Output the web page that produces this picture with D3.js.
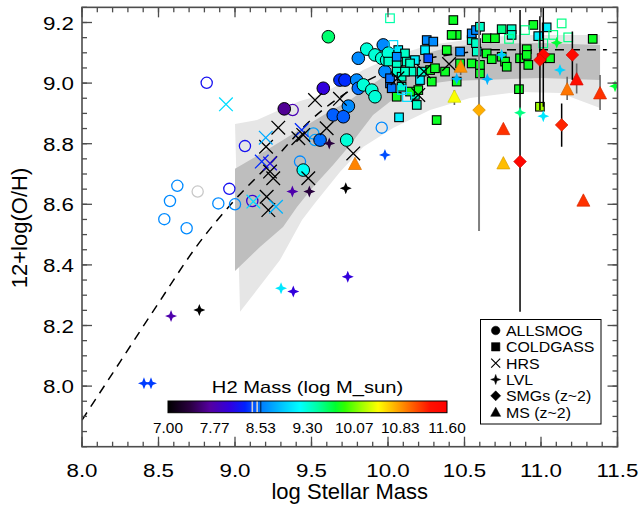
<!DOCTYPE html>
<html>
<head>
<meta charset="utf-8">
<script src="https://cdn.jsdelivr.net/npm/d3@7"></script>
<style>
body { margin: 0; background: #fff; }
text { font-family: "Liberation Sans", Arial, Helvetica, sans-serif; fill: #000; }
</style>
</head>
<body>
<svg id="chart" width="641" height="507"></svg>
<script>
// ---- data: [log M*, 12+log(O/H), log M_H2] ----
var allsmog = [
  [9.322,8.915,7.65],[9.577,8.983,8.0],[9.610,9.153,9.6],[9.686,9.010,8.3],[9.719,9.010,8.3],
  [9.741,8.924,8.6],[9.642,8.895,8.45],[9.708,8.889,8.45],[9.556,8.812,8.5],[9.730,8.812,9.3],
  [9.446,8.713,9.2],[9.861,9.112,9.3],[9.969,9.126,8.6],[9.806,9.082,8.6],[9.915,9.093,9.3],
  [9.959,9.082,9.3],[9.991,9.076,9.3],[10.002,9.099,9.3],[9.980,9.038,8.6],[9.795,9.010,8.6],
  [9.806,8.983,8.5],[9.839,8.994,9.3],[9.894,8.977,9.3],[9.915,8.955,9.3]
];
var allsmogLimits = [
  [8.815,9.001,8.15],[9.065,8.792,8.15],[8.538,8.551,8.6],[8.575,8.611,8.6],[8.623,8.661,8.6],
  [8.684,8.521,8.6],[8.756,8.642,null],[8.891,8.603,8.6],[8.963,8.651,8.15],[9.000,8.600,8.6],
  [9.113,8.611,7.95],[9.425,8.741,8.6],[9.377,8.911,7.8],[9.512,8.834,8.7],[9.523,8.812,8.7],
  [9.959,8.853,8.6]
];
var coldgass = [
  [10.067,9.109,9.1],[10.111,9.098,9.35],[10.002,9.071,9.35],[10.057,9.060,9.35],[10.122,9.071,9.35],
  [10.176,9.076,9.1],[10.253,9.142,8.6],[10.296,9.137,8.6],[10.242,9.109,9.1],[10.263,9.082,8.4],
  [10.013,8.999,8.5],[10.024,8.983,8.5],[10.013,9.016,8.5],[10.057,9.038,9.35],[10.089,9.021,9.35],
  [10.057,8.955,9.8],[10.176,8.961,9.35],[10.188,8.928,9.35],[10.209,9.010,9.1],[10.198,8.977,9.8],
  [10.275,9.043,9.8],[10.307,9.049,9.8],[10.286,9.005,9.8],[10.373,9.038,9.8],[10.384,9.109,9.8],
  [10.449,9.159,9.8],[10.416,9.159,9.8],[10.427,9.208,9.8],[10.471,9.065,9.8],[10.547,9.065,9.8],
  [10.601,9.032,9.8],[10.601,9.060,9.8],[10.580,9.104,9.35],[10.547,9.142,9.35],[10.575,9.132,9.35],
  [10.547,9.164,8.6],[10.575,9.175,8.6],[10.601,9.186,9.35],[10.645,9.148,9.8],[10.699,9.148,9.8],
  [10.743,9.178,9.55],[10.808,9.178,9.35],[10.808,9.159,9.35],[10.645,9.098,9.8],[10.678,9.079,9.8],
  [10.743,9.087,9.8],[10.765,9.071,9.8],[10.776,9.054,9.8],[10.863,9.082,9.8],[10.907,9.112,9.8],
  [10.907,9.093,9.8],[10.917,9.060,9.8],[10.950,9.192,9.8],[11.037,9.184,9.1],[10.982,9.155,9.1],
  [11.005,9.082,9.8],[11.059,9.082,9.8],[11.338,9.146,9.8],[10.856,8.980,9.8],[10.993,8.922,10.2],
  [10.318,8.878,9.8],[10.072,8.887,9.1],[10.471,9.104,8.6],[10.449,9.005,9.8],[10.220,9.038,9.35],
  [10.089,8.988,9.35],[10.144,8.972,9.8],[10.144,9.065,9.35],[10.154,9.038,9.35],[10.111,9.038,9.35],
  [10.057,9.087,8.6]
];
var coldgassLimits = [
  [10.013,9.214,9.45],[10.791,9.146,9.55],[10.895,9.175,9.55],[11.080,9.159,9.55],[11.135,9.197,9.55],
  [11.178,9.151,9.55],[11.015,9.131,9.55],[10.035,9.126,9.0],[10.092,8.977,9.0],[10.124,8.954,9.0]
];
var hrs = [
  [8.941,8.930,9.0],[9.283,8.853,7.0],[9.203,8.790,7.0],[9.201,8.820,8.75],[9.175,8.741,8.3],
  [9.229,8.735,8.1],[9.229,8.708,7.0],[9.250,8.686,7.0],[9.207,8.625,7.0],[9.218,8.581,7.0],
  [9.120,8.609,9.0],[9.268,8.592,8.8],[9.436,8.845,8.3],[9.414,8.818,7.0],[9.446,8.829,7.0],
  [9.523,8.944,7.0],[9.479,8.686,7.0],[9.599,8.851,7.0],[9.686,8.948,7.0],[9.773,8.768,7.0],
  [10.062,9.016,7.0],[10.198,8.961,7.0],[10.235,9.038,7.0],[10.399,9.063,7.0]
];
var lvl = [
  [8.405,8.009,8.35],[8.451,8.009,8.35],[8.582,8.231,7.75],[8.767,8.251,7.0],[9.301,8.323,9.05],
  [9.381,8.312,8.0],[9.375,8.642,7.75],[9.486,8.642,7.35],[9.724,8.653,7.0],[9.737,8.361,8.0],
  [9.616,8.801,7.35],[9.980,8.763,8.4],[10.449,9.014,8.8],[10.649,9.013,8.8],[10.743,9.093,8.9],
  [11.103,9.133,9.75],[11.124,9.043,8.95],[11.484,8.990,9.75],[10.863,8.902,9.55],[11.015,8.891,9.05]
];
// [log M*, O/H, H2, err low, err high]
var smgs = [
  [10.595,8.911,10.75,8.512,9.26],[10.863,8.741,11.5,8.245,9.241],[11.015,9.093,11.5,8.922,9.251],
  [10.993,9.076,11.45,8.911,9.221],[11.205,9.093,11.45,9.010,9.170],[11.135,8.862,11.25,8.790,8.933]
];
var msz2 = [
  [10.475,9.054,10.85,9.027,9.076],[10.434,8.955,10.45,8.928,8.977],[9.784,8.733,10.9,null,null],
  [10.754,8.848,11.2,null,null],[10.754,8.735,10.7,null,null],[11.233,9.012,11.4,8.966,9.065],
  [11.171,8.979,10.95,8.944,9.021],[11.386,8.966,11.2,8.911,9.027],[11.277,8.612,11.2,null,null]
];

// shaded relation bands and the dashed MZ curve
var bandLightTop = [[9.0,8.865],[9.144,8.878],[9.275,8.908],[9.425,8.941],[9.536,8.957],[9.686,8.997],[9.837,9.043],[10.052,9.093],[10.275,9.126],[10.601,9.149],[10.863,9.159],[11.386,9.159]];
var bandLightBottom = [[9.033,8.245],[9.294,8.416],[9.438,8.548],[9.523,8.604],[9.686,8.707],[9.837,8.789],[10.033,8.852],[10.275,8.911],[10.536,8.951],[10.863,8.971],[11.124,8.967],[11.386,8.918]];
var bandDarkTop = [[9.0,8.717],[9.098,8.746],[9.314,8.812],[9.471,8.862],[9.601,8.901],[9.752,8.944],[9.902,8.997],[10.052,9.05],[10.209,9.093],[10.405,9.119],[10.601,9.129],[11.0,9.132],[11.386,9.126]];
var bandDarkBottom = [[9.0,8.38],[9.163,8.459],[9.314,8.525],[9.405,8.591],[9.51,8.657],[9.641,8.73],[9.752,8.796],[9.902,8.895],[10.052,8.954],[10.209,8.994],[10.405,9.007],[10.601,9.01],[11.0,9.017],[11.386,9.01]];
var mzCurve = [[8.0,7.888],[8.25,8.081],[8.5,8.274],[8.75,8.462],[9.0,8.615],[9.25,8.745],[9.5,8.88],[9.75,8.975],[10.0,9.04],[10.25,9.08],[10.5,9.10],[10.64,9.11],[11.43,9.11]];

var xMajor = [8.0,8.5,9.0,9.5,10.0,10.5,11.0,11.5];
var yMajor = [8.0,8.2,8.4,8.6,8.8,9.0,9.2];
var cbarTicks = [7.00,7.77,8.53,9.30,10.07,10.83,11.60];
var legendNames = ["ALLSMOG","COLDGASS","HRS","LVL","SMGs (z~2)","MS (z~2)"];

// colour table (fraction of the bar, colour)
var cmapStops = [[0,"#000000"],[0.079,"#2a0040"],[0.15,"#5500a0"],[0.222,"#3000e0"],[0.276,"#0020ff"],
  [0.337,"#0080ff"],[0.42,"#00d0ff"],[0.473,"#00ffff"],[0.538,"#00ffa0"],[0.6,"#00ff30"],[0.634,"#30ff00"],
  [0.695,"#a0ff00"],[0.753,"#ffff00"],[0.814,"#ffb000"],[0.875,"#ff6000"],[0.94,"#ff1000"],[1,"#ff0000"]];

var svg = d3.select("#chart");
var x = d3.scaleLinear().domain([8.0, 11.5]).range([82, 617.5]);
var y = d3.scaleLinear().domain([7.8, 9.25]).range([446.7, 7.35]);
var cb = d3.scaleLinear().domain([7.0, 11.6]).range([168, 447]);
var color = d3.scaleLinear()
  .domain(cmapStops.map(function(s){ return 7 + 4.6*s[0]; }))
  .range(cmapStops.map(function(s){ return s[1]; }))
  .clamp(true);
function col(h){ return h == null ? "#c8c8c8" : color(h); }

function stretch(sel, k){
  sel.each(function(){
    var w = this.getComputedTextLength();
    d3.select(this).attr("textLength", w*k).attr("lengthAdjust", "spacingAndGlyphs");
  });
}

svg.append("defs").append("clipPath").attr("id","plotclip")
  .append("rect").attr("x", x(8)).attr("y", y(9.25))
  .attr("width", x(11.5)-x(8)).attr("height", y(7.8)-y(9.25));

var plot = svg.append("g").attr("clip-path","url(#plotclip)");
var line = d3.line().x(function(d){ return x(d[0]); }).y(function(d){ return y(d[1]); });

// bands
plot.append("path").attr("d", line(bandLightTop.concat(bandLightBottom.slice().reverse())) + "Z")
  .attr("fill", "#e6e6e6");
plot.append("path").attr("d", line(bandDarkTop.concat(bandDarkBottom.slice().reverse())) + "Z")
  .attr("fill", "#bebebe");

// dashed curve
plot.append("path").attr("d", d3.line().x(function(d){ return x(d[0]); }).y(function(d){ return y(d[1]); })
    .curve(d3.curveMonotoneX)(mzCurve))
  .attr("fill","none").attr("stroke","#000").attr("stroke-width",1.5).attr("stroke-dasharray","9,7");

// ALLSMOG
plot.selectAll(".cl").data(allsmogLimits).enter().append("circle")
  .attr("cx", function(d){ return x(d[0]); }).attr("cy", function(d){ return y(d[1]); })
  .attr("r", 5.6).attr("fill","none").attr("stroke", function(d){ return col(d[2]); }).attr("stroke-width",1.3);
plot.selectAll(".cf").data(allsmog).enter().append("circle")
  .attr("cx", function(d){ return x(d[0]); }).attr("cy", function(d){ return y(d[1]); })
  .attr("r", 6.3).attr("fill", function(d){ return col(d[2]); }).attr("stroke","#000").attr("stroke-width",1);

// COLDGASS
var sq = 8.6;
plot.selectAll(".sf").data(coldgass).enter().append("rect")
  .attr("x", function(d){ return x(d[0]) - sq/2; }).attr("y", function(d){ return y(d[1]) - sq/2; })
  .attr("width", sq).attr("height", sq)
  .attr("fill", function(d){ return col(d[2]); }).attr("stroke","#000").attr("stroke-width",1.1);
plot.selectAll(".sl").data(coldgassLimits).enter().append("rect")
  .attr("x", function(d){ return x(d[0]) - sq/2; }).attr("y", function(d){ return y(d[1]) - sq/2; })
  .attr("width", sq).attr("height", sq)
  .attr("fill","none").attr("stroke", function(d){ return col(d[2]); }).attr("stroke-width",1.2);

// HRS
var xs = 6.8;
plot.selectAll(".hx").data(hrs).enter().append("path")
  .attr("transform", function(d){ return "translate(" + x(d[0]) + "," + y(d[1]) + ")"; })
  .attr("d", "M"+(-xs)+","+(-xs)+"L"+xs+","+xs+"M"+(-xs)+","+xs+"L"+xs+","+(-xs))
  .attr("fill","none").attr("stroke", function(d){ return col(d[2]); }).attr("stroke-width",1.3);

// error bars
plot.selectAll(".es").data(smgs).enter().append("line")
  .attr("x1", function(d){ return x(d[0]); }).attr("x2", function(d){ return x(d[0]); })
  .attr("y1", function(d){ return y(d[3]); }).attr("y2", function(d){ return y(d[4]); })
  .attr("stroke", function(d, i){ return i === 0 ? "#7f7f7f" : "#000"; })
  .attr("stroke-width", function(d, i){ return i === 0 ? 2 : 1.5; });
plot.selectAll(".em").data(msz2.filter(function(d){ return d[3] != null; })).enter().append("line")
  .attr("x1", function(d){ return x(d[0]); }).attr("x2", function(d){ return x(d[0]); })
  .attr("y1", function(d){ return y(d[3]); }).attr("y2", function(d){ return y(d[4]); })
  .attr("stroke","#666").attr("stroke-width",1.6);

// LVL
function starPath(R, r){
  var p = [];
  for (var i = 0; i < 8; i++){
    var a = i*Math.PI/4 - Math.PI/2, rr = (i % 2 === 0) ? R : r;
    p.push([(rr*Math.cos(a)).toFixed(2), (rr*Math.sin(a)).toFixed(2)]);
  }
  return "M" + p.join("L") + "Z";
}
plot.selectAll(".lv").data(lvl).enter().append("path")
  .attr("transform", function(d){ return "translate(" + x(d[0]) + "," + y(d[1]) + ")"; })
  .attr("d", starPath(6, 2.4)).attr("fill", function(d){ return col(d[2]); });

// SMGs
plot.selectAll(".sm").data(smgs).enter().append("path")
  .attr("transform", function(d){ return "translate(" + x(d[0]) + "," + y(d[1]) + ")"; })
  .attr("d", "M0,-6.3L6.3,0L0,6.3L-6.3,0Z")
  .attr("fill", function(d){ return col(d[2]); })
  .attr("stroke", function(d){ return d3.color(col(d[2])).darker(0.6); }).attr("stroke-width",0.7);

// MS z~2
plot.selectAll(".ms").data(msz2).enter().append("path")
  .attr("transform", function(d){ return "translate(" + x(d[0]) + "," + y(d[1]) + ")"; })
  .attr("d", "M0,-6.8L6.5,5.5L-6.5,5.5Z")
  .attr("fill", function(d){ return col(d[2]); })
  .attr("stroke", function(d){ return d3.color(col(d[2])).darker(0.5); }).attr("stroke-width",0.7);

// ---- axes (ticks on all four sides, pointing inward) ----
var axisCol = "#4d4d4d";
var ax = svg.append("g");
var xMinor = d3.range(80, 116).map(function(v){ return v/10; });
var yMinor = d3.range(156, 186).map(function(v){ return v/20; });
function tickLines(vals, len, vertical, base, dir){
  ax.append("g").selectAll("line").data(vals).enter().append("line")
    .attr("x1", function(d){ return vertical ? x(d) : base; })
    .attr("x2", function(d){ return vertical ? x(d) : base + dir*len; })
    .attr("y1", function(d){ return vertical ? base : y(d); })
    .attr("y2", function(d){ return vertical ? base + dir*len : y(d); })
    .attr("stroke", axisCol).attr("stroke-width", 1.3);
}
tickLines(xMinor, 5, true, y(7.8), -1);
tickLines(xMajor, 10, true, y(7.8), -1);
tickLines(xMinor, 5, true, y(9.25), 1);
tickLines(xMajor, 10, true, y(9.25), 1);
tickLines(yMinor, 5, false, x(8), 1);
tickLines(yMajor, 10, false, x(8), 1);
tickLines(yMinor, 5, false, x(11.5), -1);
tickLines(yMajor, 10, false, x(11.5), -1);
ax.append("rect").attr("x", x(8)).attr("y", y(9.25))
  .attr("width", x(11.5)-x(8)).attr("height", y(7.8)-y(9.25))
  .attr("fill","none").attr("stroke", axisCol).attr("stroke-width",1.6);

var xl = ax.selectAll(".xl").data(xMajor).enter().append("text")
  .attr("x", function(d){ return x(d); }).attr("y", 476.7)
  .attr("text-anchor","middle").attr("font-size",18).text(d3.format(".1f"));
stretch(xl, 1.24);
var yl = ax.selectAll(".yl").data(yMajor).enter().append("text")
  .attr("x", 74).attr("y", function(d){ return y(d) + 7; })
  .attr("text-anchor","end").attr("font-size",18).text(d3.format(".1f"));
stretch(yl, 1.24);

ax.append("text").attr("x", (x(8)+x(11.5))/2).attr("y", 499)
  .attr("text-anchor","middle").attr("font-size",22).text("log Stellar Mass");
ax.append("text").attr("transform","translate(27," + 228 + ") rotate(-90)")
  .attr("text-anchor","middle").attr("font-size",22).text("12+log(O/H)");

// ---- legend ----
var lg = svg.append("g");
lg.append("rect").attr("x",480.5).attr("y",319.5).attr("width",120.5).attr("height",104.5)
  .attr("fill","#fff").attr("stroke","#000").attr("stroke-width",1);
var legendSyms = [
  "M4.3,0A4.3,4.3 0 1,1 -4.3,0A4.3,4.3 0 1,1 4.3,0Z",
  "M-4.2,-4.2H4.2V4.2H-4.2Z",
  "M-4.5,-4.5L4.5,4.5M-4.5,4.5L4.5,-4.5",
  starPath(5, 1.8),
  "M0,-5L5,0L0,5L-5,0Z",
  "M0,-5L5,4.2L-5,4.2Z"
];
legendNames.forEach(function(name, i){
  var by = 336 + i*16.33;
  lg.append("path").attr("transform","translate(495.7," + (by-5.5) + ")")
    .attr("d", legendSyms[i])
    .attr("fill", i === 2 ? "none" : "#000").attr("stroke","#000").attr("stroke-width", i === 2 ? 1.2 : 0.5);
  var t = lg.append("text").attr("x",506).attr("y",by).attr("font-size",15).text(name);
  stretch(t, 1.06);
});

// ---- colour bar ----
var cg = svg.append("g");
var grad = svg.select("defs").append("linearGradient").attr("id","cmap")
  .attr("x1","0%").attr("x2","100%").attr("y1","0%").attr("y2","0%");
grad.selectAll("stop").data(cmapStops).enter().append("stop")
  .attr("offset", function(d){ return (d[0]*100) + "%"; }).attr("stop-color", function(d){ return d[1]; });
cg.append("rect").attr("x", cb(7)).attr("y", 401).attr("width", cb(11.6)-cb(7)).attr("height", 11.7)
  .attr("fill","url(#cmap)");
[8.39, 8.47].forEach(function(v){
  cg.append("line").attr("x1", cb(v)).attr("x2", cb(v)).attr("y1", 401).attr("y2", 412.7)
    .attr("stroke","#d0d0d0").attr("stroke-width",1.6);
});
cg.append("line").attr("x1", cb(8.53)).attr("x2", cb(8.53)).attr("y1", 401).attr("y2", 412.7)
  .attr("stroke","#000").attr("stroke-width",0.8);
cg.append("rect").attr("x", cb(7)).attr("y", 401).attr("width", cb(11.6)-cb(7)).attr("height", 11.7)
  .attr("fill","none").attr("stroke","#000").attr("stroke-width",1);
var cl = cg.selectAll(".cbl").data(cbarTicks).enter().append("text")
  .attr("x", function(d){ return cb(d); }).attr("y", 433)
  .attr("text-anchor","middle").attr("font-size",14).text(d3.format(".2f"));
stretch(cl, 1.1);
var ct = cg.append("text").attr("x", (cb(7)+cb(11.6))/2).attr("y", 392.5)
  .attr("text-anchor","middle").attr("font-size",16.5).text("H2 Mass (log M_sun)");
stretch(ct, 1.22);
</script>
</body>
</html>
